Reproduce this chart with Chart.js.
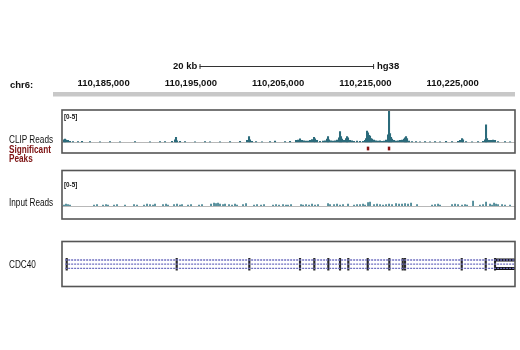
<!DOCTYPE html>
<html><head><meta charset="utf-8">
<script src="https://cdn.jsdelivr.net/npm/chart.js@4.4.1/dist/chart.umd.min.js"></script>
<style>
html,body{margin:0;padding:0;background:#fff;}
#wrap{position:relative;width:520px;height:350px;overflow:hidden;font-family:"Liberation Sans",Arial,sans-serif;}
canvas{position:absolute;left:0;}
.t{position:absolute;white-space:nowrap;line-height:10px;color:#111;}
.b{font-weight:bold;font-size:9.5px;}
.lab{font-size:10px;transform:scaleX(0.82);transform-origin:0 0;left:9px;}
.red{color:#7d1212;font-weight:bold;}
.rng{font-size:7px;font-weight:bold;left:64px;line-height:8px;transform:scaleX(0.9);transform-origin:0 0;}
</style></head><body>
<div id="wrap">
  <canvas id="ruler" width="520" height="44" style="top:56px"></canvas>
  <canvas id="clip" width="520" height="46" style="top:109px"></canvas>
  <canvas id="peaks" width="520" height="7" style="top:145px"></canvas>
  <canvas id="input" width="520" height="52" style="top:169px"></canvas>
  <canvas id="gene" width="520" height="48" style="top:240px"></canvas>

  <div class="t b" style="left:10px;top:80px">chr6:</div>
  <div class="t b" style="left:173px;top:61px">20 kb</div>
  <div class="t b" style="left:377px;top:61px">hg38</div>
  <div class="t rng" style="top:112.8px">[0-5]</div>
  <div class="t rng" style="top:180.6px">[0-5]</div>
  <div class="t lab" style="top:134.8px">CLIP Reads</div>
  <div class="t lab red" style="top:144.8px">Significant</div>
  <div class="t lab red" style="top:153.7px">Peaks</div>
  <div class="t lab" style="top:198.2px">Input Reads</div>
  <div class="t lab" style="top:260px">CDC40</div>
</div>
<script>
// ---- view / axis ----
const viewStart = 110180240;
const viewEnd   = 110232150;
const tickPositions = [110185000, 110195000, 110205000, 110215000, 110225000];
const tickLabels = ['110,185,000', '110,195,000', '110,205,000', '110,215,000', '110,225,000'];
const scaleBarStart = 110196000;
const scaleBarLength = 20000;

// ---- CLIP reads (signal, range 0-5) ----
const clipPos = [
 110180470,110180584,110180699,110180928,110181157,110181501,110182074,110182533,110183449,110184595,
 110185741,110186887,110188606,110190325,110191471,110192044,110192847,110193190,110193305,110193420,
 110193763,110194336,110195482,110196628,110197201,110198347,110199493,110200639,110201442,110201671,
 110201785,110202015,110202473,110203161,110204077,110204650,110205796,110206369,110207057,110207286,
 110207515,110207745,110207974,110208203,110208432,110208661,110208891,110209120,110209234,110209464,
 110209807,110210151,110210380,110210610,110210724,110210839,110211068,110211297,110211526,110211756,
 110211985,110212099,110212214,110212329,110212558,110212787,110212902,110213016,110213245,110213475,
 110213704,110214048,110214391,110214735,110214964,110215079,110215194,110215308,110215423,110215537,
 110215652,110215767,110215996,110216225,110216454,110216683,110216913,110217142,110217371,110217600,
 110217715,110217829,110217944,110218059,110218288,110218517,110218746,110218975,110219205,110219434,
 110219548,110219663,110219778,110220007,110220351,110220809,110221267,110221840,110222413,110222986,
 110223559,110224247,110224935,110225622,110225851,110226081,110226195,110226539,110227227,110227914,
 110228487,110228716,110228831,110228946,110229175,110229404,110229633,110229862,110230206,110231005,
 110231581];
const clipVal = [
 0.4,0.5,0.35,0.3,0.15,0.1,0.1,0.15,0.1,0.08,
 0.1,0.08,0.1,0.08,0.1,0.1,0.15,0.4,0.8,0.25,
 0.15,0.1,0.08,0.1,0.08,0.08,0.1,0.15,0.3,0.9,
 0.4,0.15,0.1,0.08,0.1,0.2,0.1,0.15,0.3,0.35,
 0.55,0.3,0.25,0.2,0.2,0.3,0.45,0.8,0.55,0.3,
 0.15,0.2,0.25,0.5,0.9,0.4,0.25,0.2,0.25,0.35,
 0.7,1.7,0.9,0.5,0.3,0.6,0.9,0.7,0.3,0.25,
 0.15,0.2,0.15,0.15,0.3,0.6,1.8,1.5,1.1,1.0,
 0.6,0.5,0.35,0.25,0.2,0.25,0.15,0.2,0.35,1.2,
 5.0,1.4,0.8,0.5,0.3,0.2,0.25,0.3,0.35,0.5,
 0.7,0.9,0.6,0.2,0.1,0.1,0.08,0.1,0.08,0.1,
 0.08,0.15,0.1,0.15,0.3,0.6,0.4,0.1,0.08,0.1,
 0.15,0.4,2.8,0.6,0.3,0.3,0.35,0.3,0.1,0.1,
 0.08];

// ---- significant peaks ----
const peakPos = [110215308, 110217715];

// ---- Input reads (signal, range 0-5) ----
const inputPos = [
 110180470,110180699,110180928,110181157,110183908,110184252,110184939,110185283,110185512,110186200,
 110186544,110187460,110188492,110188836,110189638,110189982,110190325,110190669,110190898,110191815,
 110192159,110192388,110193076,110193420,110193763,110193993,110194680,110195024,110195941,110196285,
 110197316,110197660,110197889,110198118,110198347,110198691,110198920,110199379,110199723,110200066,
 110200296,110200983,110201327,110202244,110202588,110203046,110203390,110204421,110204765,110205109,
 110205567,110205911,110206140,110206484,110207630,110207859,110208203,110208547,110208891,110209234,
 110209578,110210724,110210953,110211412,110211756,110212099,110212443,110213016,110213704,110214048,
 110214391,110214735,110214964,110215308,110215537,110215996,110216340,110216683,110217027,110217371,
 110217715,110218059,110218517,110218861,110219205,110219548,110219892,110220236,110220924,110222643,
 110222986,110223330,110223559,110224935,110225278,110225622,110226081,110226424,110226654,110227341,
 110228133,110228487,110228831,110229289,110229519,110229748,110229977,110230206,110230665,110231005,
 110231581];
const inputVal = [
 0.14,0.29,0.21,0.14,0.14,0.21,0.14,0.21,0.14,0.14,
 0.21,0.14,0.21,0.14,0.14,0.29,0.21,0.14,0.29,0.21,
 0.29,0.14,0.21,0.29,0.14,0.21,0.14,0.21,0.14,0.21,
 0.29,0.43,0.36,0.43,0.29,0.21,0.29,0.21,0.14,0.29,
 0.14,0.21,0.36,0.14,0.21,0.14,0.21,0.14,0.21,0.14,
 0.21,0.14,0.14,0.21,0.21,0.14,0.21,0.14,0.29,0.14,
 0.21,0.36,0.21,0.21,0.29,0.14,0.21,0.29,0.14,0.21,
 0.21,0.29,0.14,0.5,0.57,0.21,0.29,0.21,0.14,0.21,
 0.29,0.21,0.36,0.29,0.29,0.36,0.29,0.43,0.21,0.14,
 0.21,0.29,0.14,0.21,0.29,0.21,0.14,0.21,0.14,0.71,
 0.14,0.21,0.57,0.29,0.14,0.43,0.29,0.21,0.21,0.14,
 0.14];

// ---- CDC40 gene model ----
const transcriptRows = [1, 2, 3];
const geneStart = 110180600;
const geneEnd = 110234000;
const exonPos = [110180779,110193385,110201705,110207515,110209154,110210759,110212099,110213051,
                 110215274,110217749,110219285,110219548,110226046,110228797,110229862];
const lastExonStart = 110229862;
const lastExonRows = [1, 3];

Chart.defaults.font.family = '"Liberation Sans", Arial, sans-serif';
const PAD = {left: 62, right: 5};

const rulerDeco = {
  id: 'rulerDeco',
  afterDraw(chart) {
    const ctx = chart.ctx, a = chart.chartArea, x = chart.scales.x;
    ctx.save();
    ctx.fillStyle = '#c8c8c8';
    ctx.fillRect(a.left - 9, 36, a.right - a.left + 9, 4.5);
    const x1 = x.getPixelForValue(scaleBarStart), x2 = x.getPixelForValue(scaleBarStart + scaleBarLength);
    ctx.strokeStyle = '#333'; ctx.lineWidth = 1;
    ctx.beginPath();
    ctx.moveTo(x1, 10.5); ctx.lineTo(x2, 10.5);
    ctx.moveTo(x1 + 0.5, 8); ctx.lineTo(x1 + 0.5, 13);
    ctx.moveTo(x2 - 0.5, 8); ctx.lineTo(x2 - 0.5, 13);
    ctx.stroke();
    ctx.restore();
  }
};

const trackBox = {
  id: 'trackBox',
  beforeDatasetsDraw(chart, args, opts) {
    if (!opts.baseline) return;
    const ctx = chart.ctx, a = chart.chartArea, y0 = chart.scales.y.getPixelForValue(0);
    ctx.save();
    ctx.strokeStyle = '#b8b8b8'; ctx.lineWidth = 1;
    ctx.beginPath(); ctx.moveTo(a.left, Math.round(y0) + 0.5); ctx.lineTo(a.right, Math.round(y0) + 0.5); ctx.stroke();
    ctx.restore();
  },
  afterDraw(chart, args, opts) {
    if (opts.top === undefined) return;
    const ctx = chart.ctx, a = chart.chartArea;
    ctx.save();
    ctx.strokeStyle = '#555'; ctx.lineWidth = 1.6;
    ctx.strokeRect(a.left, opts.top, a.right - a.left, opts.bottom - opts.top);
    ctx.restore();
  }
};

function baseOpts(padTop, padBottom, ymin, ymax, box) {
  return {
    responsive: false, animation: false, events: [],
    layout: {padding: {left: PAD.left, right: PAD.right, top: padTop, bottom: padBottom}},
    plugins: {legend: {display: false}, tooltip: {enabled: false}, trackBox: box},
    scales: {
      x: {type: 'linear', display: false, offset: false, min: viewStart, max: viewEnd},
      y: {type: 'linear', display: false, min: ymin, max: ymax}
    }
  };
}

// Ruler
new Chart(document.getElementById('ruler'), {
  type: 'scatter',
  data: {datasets: []},
  options: {
    responsive: false, animation: false, events: [],
    layout: {padding: {left: PAD.left, right: PAD.right, top: 0, bottom: 8.6}},
    plugins: {legend: {display: false}, tooltip: {enabled: false}},
    scales: {
      x: {
        type: 'linear', position: 'bottom', offset: false, min: viewStart, max: viewEnd,
        afterBuildTicks: ax => { ax.ticks = tickPositions.map(v => ({value: v})); },
        ticks: {autoSkip: false, maxRotation: 0, padding: 2, color: '#111',
                font: {size: 9.5, weight: 'bold'}, callback: (v, i) => tickLabels[i]},
        grid: {display: false, drawTicks: false}, border: {display: false}
      },
      y: {display: false, min: 0, max: 1}
    }
  },
  plugins: [rulerDeco]
});

// CLIP reads
new Chart(document.getElementById('clip'), {
  type: 'bar',
  data: {datasets: [{
    data: clipPos.map((p, i) => ({x: p, y: clipVal[i]})),
    backgroundColor: '#2b6b7b', barThickness: 1.4
  }]},
  options: baseOpts(2, 12.7, 0, 5, {top: 1, bottom: 44, baseline: true}),
  plugins: [trackBox]
});

// Significant peaks
new Chart(document.getElementById('peaks'), {
  type: 'bar',
  data: {datasets: [{
    data: peakPos.map(p => ({x: p, y: 1})),
    backgroundColor: '#8a1010', barThickness: 1.8
  }]},
  options: baseOpts(1.5, 1.5, 0, 1, {}),
  plugins: [trackBox]
});

// Input reads
new Chart(document.getElementById('input'), {
  type: 'bar',
  data: {datasets: [{
    data: inputPos.map((p, i) => ({x: p, y: inputVal[i]})),
    backgroundColor: '#3a7d8c', barThickness: 1
  }]},
  options: baseOpts(2, 15, 0, 5, {top: 1.5, bottom: 50, baseline: true}),
  plugins: [trackBox]
});

// Gene model
const geneDatasets = transcriptRows.map(r => ({
  type: 'line',
  data: [{x: geneStart, y: r}, {x: geneEnd, y: r}],
  borderColor: '#6f6fc0', borderWidth: 1.3, borderDash: [2, 1], pointRadius: 0
}));
lastExonRows.forEach(r => geneDatasets.push({
  type: 'line',
  data: [{x: lastExonStart, y: r}, {x: geneEnd, y: r}],
  borderColor: '#111', borderWidth: 3, pointRadius: 0, borderCapStyle: 'butt'
}));
geneDatasets.push({
  type: 'bar',
  data: exonPos.map(p => ({x: p, y: [transcriptRows[0] - 0.4, transcriptRows[2] + 0.4]})),
  backgroundColor: '#2a2a2a', barThickness: 1.5
});
new Chart(document.getElementById('gene'), {
  type: 'bar',
  data: {datasets: geneDatasets},
  options: baseOpts(15.8, 15.4, 0, 4, {top: 1.5, bottom: 46.5}),
  plugins: [trackBox]
});
</script>
</body></html>
